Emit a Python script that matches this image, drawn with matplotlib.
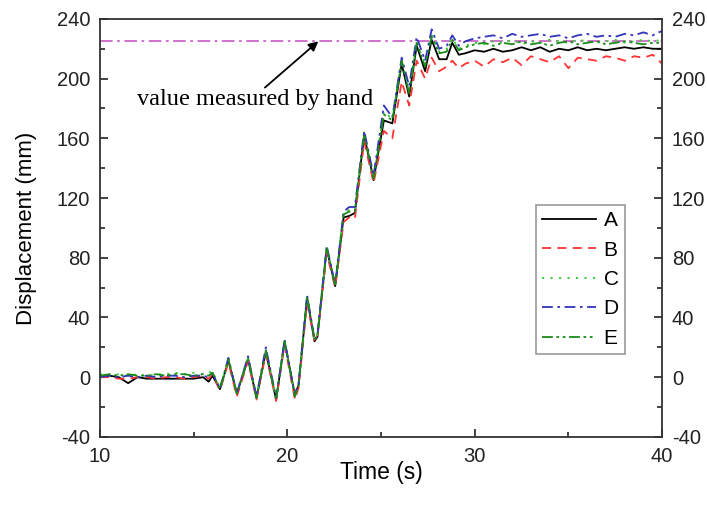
import matplotlib
matplotlib.use("Agg")
import matplotlib.pyplot as plt
from matplotlib.ticker import MultipleLocator

# sample times (s)
t = [10, 10.5, 11, 11.5, 12, 12.5, 13, 13.5, 14, 14.5, 15, 15.5, 15.8, 16.0,
     16.4, 16.85, 17.3, 17.9, 18.35, 18.85, 19.4, 19.85, 20.4, 20.6, 21.05, 21.45,
     21.6, 22.1, 22.55, 23.0, 23.3, 23.6, 24.1, 24.6, 25.15, 25.6, 26.1, 26.5,
     26.9, 27.35, 27.7, 28.1, 28.5, 28.8, 29.15,
     29.5, 30, 30.5, 31, 31.5, 32, 32.5, 33, 33.5, 34, 34.5, 35, 35.5, 36, 36.5,
     37, 37.5, 38, 38.5, 39, 39.5, 40]

# displacement (mm) for each measuring point
disp_a = [0, 1, 0, -4, 0, -1, -1, -1, -1, -1, -1, 0, -3, 1,
          -8, 11, -11, 12, -14, 17, -15, 24, -12, -5, 53, 24,
          27, 86, 61, 107, 108, 110, 162, 132, 172, 170, 210, 188,
          222, 205, 226, 213, 213, 224, 216,
          217, 219, 218, 220, 218, 219, 221, 219, 221, 218, 220, 219, 221, 219, 220,
          219, 220, 221, 220, 221, 220, 220]
disp_b = [0, 0, -1, -1, 0, 0, -1, 0, 0, -1, 0, 1, -1, 2,
          -9, 10, -13, 11, -15, 16, -16, 22, -15, -7, 50, 24,
          27, 83, 60, 104, 107, 106, 158, 130, 165, 160, 198, 182,
          212, 200, 214, 205, 208, 212, 207,
          210, 212, 208, 213, 211, 214, 209, 215, 213, 211, 215, 207, 214, 213, 212,
          215, 214, 212, 215, 214, 216, 210]
disp_c = [2, 1, 2, 1, 2, 1, 2, 2, 3, 2, 3, 2, 3, 4,
          -7, 12, -10, 13, -13, 18, -14, 24, -12, -4, 54, 25,
          28, 87, 62, 110, 112, 112, 164, 134, 178, 173, 212, 192,
          224, 210, 229, 218, 220, 227, 220,
          222, 224, 223, 225, 224, 226, 223, 225, 224, 226, 225, 224, 226, 225, 224,
          225, 226, 224, 225, 226, 225, 226]
disp_d = [0, 1, 0, 1, 0, 1, 0, 1, 1, 0, 1, 1, 0, 3,
          -8, 13, -11, 14, -13, 20, -14, 25, -12, -4, 55, 25,
          28, 88, 62, 111, 114, 114, 165, 135, 182, 174, 214, 195,
          228, 212, 233, 220, 222, 229, 222,
          225, 227, 228, 229, 227, 230, 228, 229, 230, 228, 229, 227, 229, 230, 228,
          229, 228, 230, 229, 231, 229, 232]
disp_e = [1, 2, 1, 2, 1, 1, 2, 1, 2, 2, 1, 2, 1, 3,
          -8, 12, -11, 13, -14, 18, -15, 24, -13, -5, 54, 25,
          27, 87, 61, 109, 111, 111, 163, 133, 176, 172, 212, 190,
          224, 208, 228, 217, 218, 226, 219,
          221, 223, 224, 222, 224, 223, 225, 223, 224, 222, 224, 225, 223, 224, 225,
          223, 224, 225, 224, 223, 224, 224]

hand_value = 225
labels = ["A", "B", "C", "D", "E"]

plt.rcParams["font.family"] = ["Liberation Sans", "DejaVu Sans"]
plt.rcParams["axes.unicode_minus"] = False

fig = plt.figure(figsize=(7.07, 5.11), dpi=100)
ax = fig.add_axes([0.1415, 0.145, 0.795, 0.818])

ax.axhline(hand_value, color="#cc66cc", lw=1.3, ls=(0, (7, 2.5, 1.5, 2.5)))

ax.plot(t, disp_a, color="black", lw=1.3, ls="-", label=labels[0])
ax.plot(t, disp_b, color="#ff3333", lw=1.3, ls=(0, (5, 3.5)), label=labels[1])
ax.plot(t, disp_c, color="#33cc33", lw=1.3, ls=(0, (1.2, 3.5)), label=labels[2])
ax.plot(t, disp_d, color="#3333bb", lw=1.3, ls=(0, (6, 2.5, 1.5, 2.5)), label=labels[3])
ax.plot(t, disp_e, color="#1a8a1a", lw=1.3,
        ls=(0, (6, 2, 1.5, 2, 1.5, 2)), label=labels[4])

ax.set_xlim(10, 40)
ax.set_ylim(-40, 240)
ax.xaxis.set_major_locator(MultipleLocator(10))
ax.xaxis.set_minor_locator(MultipleLocator(5))
ax.yaxis.set_major_locator(MultipleLocator(40))
ax.yaxis.set_minor_locator(MultipleLocator(20))
ax.tick_params(which="both", direction="in", top=False, right=True,
               labelright=True, width=1.2, labelsize=14.5, colors="#222222")
ax.tick_params(which="major", length=6, pad=7)
ax.tick_params(which="minor", length=3.5)
for s in ax.spines.values():
    s.set_linewidth(1.3)
    s.set_color("#333333")

ax.set_xlabel("Time (s)", fontsize=16.5, labelpad=-3)
ax.set_ylabel("Displacement (mm)", fontsize=16, labelpad=14)

ax.text(11.98, 186, "value measured by hand", fontsize=17.5,
        family=["Liberation Serif", "DejaVu Serif"], ha="left", va="center")
ax.annotate("", xy=(21.65, hand_value), xytext=(18.8, 194),
            arrowprops=dict(arrowstyle="-|>", color="black", lw=1.3,
                            mutation_scale=14, shrinkA=0, shrinkB=0))

leg = ax.legend(loc="upper right", bbox_to_anchor=(0.934, 0.555), borderaxespad=0,
                fontsize=15, handlelength=2.6, labelspacing=0.5, handletextpad=0.35,
                borderpad=0.3, fancybox=False, framealpha=1)
leg.get_frame().set_edgecolor("#999999")
leg.get_frame().set_linewidth(1.2)

fig.savefig("out.png", dpi=100)
